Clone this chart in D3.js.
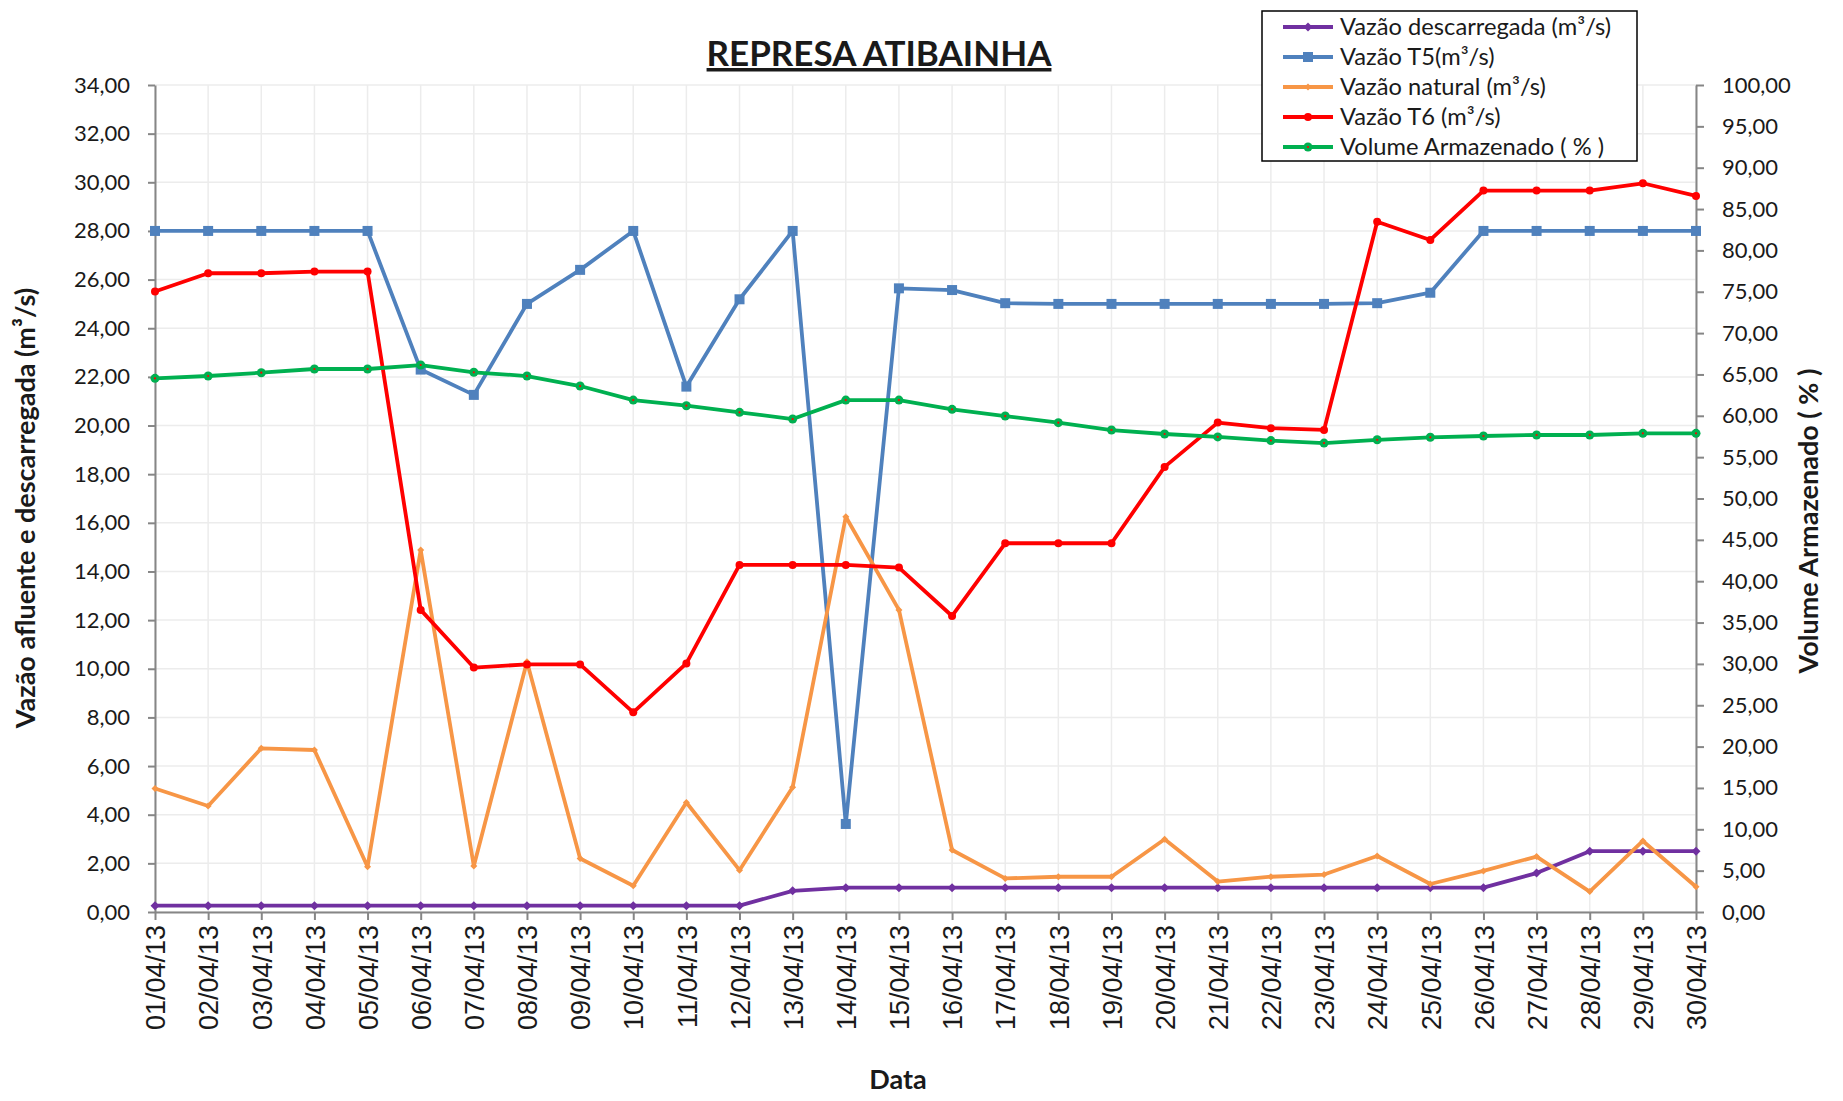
<!doctype html>
<html lang="pt">
<head>
<meta charset="UTF-8">
<title>Represa Atibainha</title>
<script src="https://cdn.jsdelivr.net/npm/d3@7/dist/d3.min.js"></script>
<style>
    body { margin: 0; background: #fff; }
    text { font-family: Lato, "Open Sans", sans-serif; fill: #1a1a1a; }
    .xaxis text { font-family: "Liberation Sans", Arial, sans-serif; }
</style>
</head>
<body>
<div id="chart"></div>
<script>
// data (April 2013)
const dates = ['01/04/13','02/04/13','03/04/13','04/04/13','05/04/13','06/04/13','07/04/13','08/04/13','09/04/13','10/04/13',
               '11/04/13','12/04/13','13/04/13','14/04/13','15/04/13','16/04/13','17/04/13','18/04/13','19/04/13','20/04/13',
               '21/04/13','22/04/13','23/04/13','24/04/13','25/04/13','26/04/13','27/04/13','28/04/13','29/04/13','30/04/13']

const vazaoDescarregada = [0.26,0.26,0.26,0.26,0.26,0.26,0.26,0.26,0.26,0.26,0.26,0.26,0.87,1.0,1.0,
                           1.0,1.0,1.0,1.0,1.0,1.0,1.0,1.0,1.0,1.0,1.0,1.6,2.5,2.5,2.5]
const vazaoT5 = [28,28,28,28,28,22.3,21.26,25.0,26.4,28,21.6,25.19,28,3.62,25.64,
                 25.57,25.03,25,25,25,25,25,25,25.03,25.46,28,28,28,28,28]
const vazaoNatural = [5.08,4.36,6.73,6.66,1.86,14.88,1.89,10.29,2.2,1.08,4.5,1.72,5.13,16.25,12.42,
                      2.55,1.38,1.45,1.45,2.99,1.25,1.45,1.54,2.3,1.15,1.69,2.28,0.84,2.92,1.04]
const vazaoT6 = [25.51,26.26,26.26,26.33,26.33,12.42,10.05,10.18,10.18,8.21,10.22,14.27,14.27,14.27,14.16,
                 12.17,15.16,15.16,15.16,18.3,20.12,19.89,19.82,28.38,27.63,29.66,29.66,29.66,29.96,29.44]
const volumeArmazenado = [64.53,64.81,65.21,65.66,65.66,66.14,65.26,64.81,63.6,61.9,61.22,60.42,59.61,61.9,61.9,
                          60.78,59.97,59.17,58.28,57.8,57.45,57.0,56.7,57.1,57.4,57.56,57.68,57.68,57.88,57.88]

const leftTicks = [0,2,4,6,8,10,12,14,16,18,20,22,24,26,28,30,32,34]
const rightTicks = [0,5,10,15,20,25,30,35,40,45,50,55,60,65,70,75,80,85,90,95,100]

const series = [
    {name: 'Vazão descarregada (m³/s)', values: vazaoDescarregada, color: '#7030A0', axis: 'left', marker: 'diamond', size: 9},
    {name: 'Vazão T5(m³/s)', values: vazaoT5, color: '#4F81BD', axis: 'left', marker: 'square', size: 10},
    {name: 'Vazão natural (m³/s)', values: vazaoNatural, color: '#F79646', axis: 'left', marker: 'diamond', size: 7},
    {name: 'Vazão T6 (m³/s)', values: vazaoT6, color: '#FF0000', axis: 'left', marker: 'circle', size: 8},
    {name: 'Volume Armazenado ( % )', values: volumeArmazenado, color: '#00B050', axis: 'right', marker: 'circle', size: 9}
]

const width = 1843, height = 1101
const plot = {left: 155, right: 1696, top: 85, bottom: 912}

const svg = d3.select('#chart').append('svg')
    .attr('width', width)
    .attr('height', height)

const x = d3.scalePoint().domain(dates).range([plot.left, plot.right])
const yLeft = d3.scaleLinear().domain([0, 34]).range([plot.bottom, plot.top])
const yRight = d3.scaleLinear().domain([0, 100]).range([plot.bottom, plot.top])

const fmt = d => d.toFixed(2).replace('.', ',')

// grid
const grid = svg.append('g').attr('stroke', '#ececec').attr('stroke-width', 1.5)
grid.selectAll('.hg').data(leftTicks).join('line')
    .attr('x1', plot.left).attr('x2', plot.right)
    .attr('y1', d => yLeft(d)).attr('y2', d => yLeft(d))
grid.selectAll('.vg').data(dates).join('line')
    .attr('x1', d => x(d)).attr('x2', d => x(d))
    .attr('y1', plot.top).attr('y2', plot.bottom)

// axes
function styleAxis(g) {
    g.selectAll('.domain').attr('stroke', '#868686').attr('stroke-width', 2)
    g.selectAll('.tick line').attr('stroke', '#868686').attr('stroke-width', 2)
    g.selectAll('.tick text').attr('fill', '#1a1a1a')
}

svg.append('g')
    .attr('transform', `translate(${plot.left},0)`)
    .call(d3.axisLeft(yLeft).tickValues(leftTicks).tickFormat(fmt).tickSize(7).tickSizeOuter(0).tickPadding(18))
    .call(styleAxis)
    .selectAll('text').style('font-size', '22px').style('font-family', 'Lato')

svg.append('g')
    .attr('transform', `translate(${plot.right},0)`)
    .call(d3.axisRight(yRight).tickValues(rightTicks).tickFormat(fmt).tickSize(8).tickSizeOuter(0).tickPadding(18))
    .call(styleAxis)
    .selectAll('text').style('font-size', '22px').style('font-family', 'Lato')

const xAxis = svg.append('g')
    .attr('class', 'xaxis')
    .attr('transform', `translate(0,${plot.bottom})`)
    .call(d3.axisBottom(x).tickSize(8).tickSizeOuter(0))
    .call(styleAxis)
xAxis.selectAll('.tick text')
    .attr('transform', 'rotate(-90)')
    .attr('x', -13)
    .attr('y', 0)
    .attr('dy', '0.36em')
    .attr('text-anchor', 'end')
    .style('font-size', '27px')

// markers
function drawMarker(g, type, size, color) {
    if (type === 'square') {
        g.append('rect').attr('x', -size / 2).attr('y', -size / 2)
            .attr('width', size).attr('height', size).attr('fill', color)
    } else if (type === 'diamond') {
        const s = size / 2
        g.append('path').attr('d', `M0,${-s}L${s},0L0,${s}L${-s},0Z`).attr('fill', color)
    } else {
        g.append('circle').attr('r', size / 2).attr('fill', color)
    }
}

// lines
const lineGroup = svg.append('g')
series.forEach(s => {
    const yScale = s.axis === 'left' ? yLeft : yRight
    const line = d3.line()
        .x((d, i) => x(dates[i]))
        .y(d => yScale(d))
    const g = lineGroup.append('g')
    g.append('path')
        .datum(s.values)
        .attr('fill', 'none')
        .attr('stroke', s.color)
        .attr('stroke-width', 3.8)
        .attr('stroke-linejoin', 'round')
        .attr('d', line)
    g.selectAll('.pt').data(s.values).join('g')
        .attr('transform', (d, i) => `translate(${x(dates[i])},${yScale(d)})`)
        .each(function () { drawMarker(d3.select(this), s.marker, s.size, s.color) })
    if (s.axis === 'right') {
        // small red centre inside the green markers
        g.selectAll('.dot').data(s.values).join('circle')
            .attr('cx', (d, i) => x(dates[i]))
            .attr('cy', d => yScale(d))
            .attr('r', 1.1)
            .attr('fill', '#FF0000')
    }
})

// titles
svg.append('text')
    .attr('x', 879).attr('y', 66)
    .attr('text-anchor', 'middle')
    .style('font-size', '35px').style('font-weight', 'bold')
    .style('text-decoration', 'underline')
    .text('REPRESA ATIBAINHA')

svg.append('text')
    .attr('transform', 'translate(35,508) rotate(-90)')
    .attr('text-anchor', 'middle')
    .style('font-size', '27px').style('font-weight', 'bold')
    .text('Vazão afluente e descarregada (m³/s)')

svg.append('text')
    .attr('transform', 'translate(1818,521) rotate(-90)')
    .attr('text-anchor', 'middle')
    .style('font-size', '27px').style('font-weight', 'bold')
    .text('Volume Armazenado ( % )')

svg.append('text')
    .attr('x', 898).attr('y', 1089)
    .attr('text-anchor', 'middle')
    .style('font-size', '27px').style('font-weight', 'bold')
    .text('Data')

// legend
const legend = svg.append('g').attr('transform', 'translate(1262,11)')
legend.append('rect')
    .attr('width', 375).attr('height', 150)
    .attr('fill', '#fff').attr('stroke', '#000').attr('stroke-width', 1.5)
series.forEach((s, i) => {
    const row = legend.append('g').attr('transform', `translate(0,${16 + i * 30})`)
    row.append('line')
        .attr('x1', 21).attr('x2', 71)
        .attr('stroke', s.color).attr('stroke-width', 3.8)
    const m = row.append('g').attr('transform', 'translate(46,0)')
    drawMarker(m, s.marker, s.size, s.color)
    if (s.axis === 'right') m.append('circle').attr('r', 1.1).attr('fill', '#FF0000')
    row.append('text')
        .attr('x', 78).attr('dy', '0.35em')
        .style('font-size', '23.7px')
        .text(s.name)
})
</script>
</body>
</html>
